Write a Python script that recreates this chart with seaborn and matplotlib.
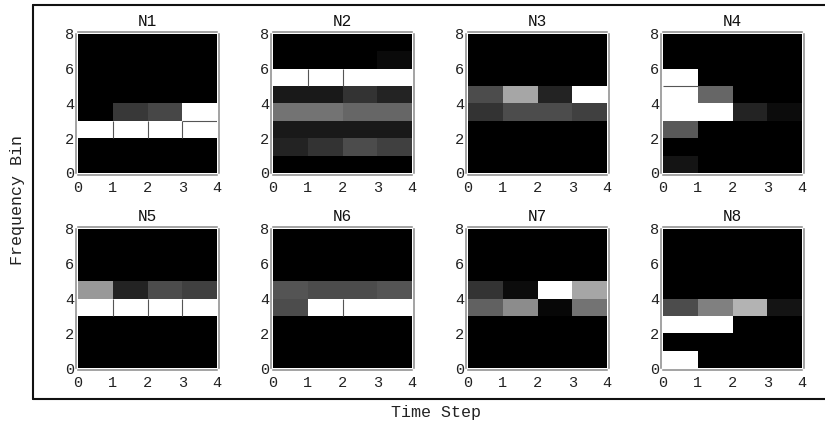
import numpy as np
import pandas as pd
import seaborn as sns
import matplotlib
matplotlib.use("Agg")
import matplotlib.pyplot as plt
from matplotlib.lines import Line2D

sns.set_theme(style="white")
plt.rcParams['font.family'] = ['Liberation Mono', 'DejaVu Sans']

titles = ["N1", "N2", "N3", "N4", "N5", "N6", "N7", "N8"]
# rows listed from frequency bin 0 upward, columns are time steps 0-3
N1 = [[0,0,0,0],[0,0,0,0],[1,1,1,1],[0,.22,.28,1],[0,0,0,0],[0,0,0,0],[0,0,0,0],[0,0,0,0]]
N2 = [[0,0,0,0],[.14,.2,.3,.25],[.1,.1,.1,.1],[.45,.45,.4,.4],[.1,.1,.2,.14],[1,1,1,1],[0,0,0,.04],[0,0,0,0]]
N3 = [[0,0,0,0],[0,0,0,0],[0,0,0,0],[.2,.3,.3,.25],[.3,.65,.14,1],[0,0,0,0],[0,0,0,0],[0,0,0,0]]
N4 = [[.08,0,0,0],[0,0,0,0],[.35,0,0,0],[1,1,.14,.05],[1,.4,0,0],[1,0,0,0],[0,0,0,0],[0,0,0,0]]
N5 = [[0,0,0,0],[0,0,0,0],[0,0,0,0],[1,1,1,1],[.6,.14,.3,.25],[0,0,0,0],[0,0,0,0],[0,0,0,0]]
N6 = [[0,0,0,0],[0,0,0,0],[0,0,0,0],[.3,1,1,1],[.33,.3,.3,.33],[0,0,0,0],[0,0,0,0],[0,0,0,0]]
N7 = [[0,0,0,0],[0,0,0,0],[0,0,0,0],[.38,.55,.03,.45],[.2,.05,1,.65],[0,0,0,0],[0,0,0,0],[0,0,0,0]]
N8 = [[1,0,0,0],[0,0,0,0],[1,1,0,0],[.3,.5,.7,.08],[0,0,0,0],[0,0,0,0],[0,0,0,0],[0,0,0,0]]
panels = [N1, N2, N3, N4, N5, N6, N7, N8]

# thin dark cell seams visible inside white runs: (time edge, frequency bin)
v_seams = {"N1": [(1, 2), (2, 2), (3, 2)], "N2": [(1, 5), (2, 5)],
           "N5": [(1, 3), (2, 3), (3, 3)], "N6": [(2, 3)]}
# (frequency edge, time step)
h_seams = {"N1": [(3, 3)], "N4": [(5, 0)]}

W, H = 825, 424
fig = plt.figure(figsize=(W / 100, H / 100), dpi=100, facecolor="white")

lefts = [78, 273, 468, 663]
tops = [34, 229]
aw, ah = 139, 139

for i, (name, vals) in enumerate(zip(titles, panels)):
    l = lefts[i % 4]
    t = tops[i // 4]
    ax = fig.add_axes([l / W, 1 - (t + ah) / H, aw / W, ah / H])
    sns.heatmap(pd.DataFrame(vals), ax=ax, cmap="gray", vmin=0, vmax=1, cbar=False,
                square=False, xticklabels=False, yticklabels=False)
    ax.invert_yaxis()
    for te, fb in v_seams.get(name, []):
        ax.plot([te, te], [fb, fb + 1], color="#555555", lw=0.8, solid_capstyle="butt")
    for fe, ts in h_seams.get(name, []):
        ax.plot([ts, ts + 1], [fe, fe], color="#555555", lw=0.8, solid_capstyle="butt")
    ax.set_xticks([0, 1, 2, 3, 4], labels=["0", "1", "2", "3", "4"])
    ax.set_yticks([0, 2, 4, 6, 8], labels=["0", "2", "4", "6", "8"])
    ax.tick_params(axis="both", length=0, labelsize=11, labelcolor="#222222",
                   labelrotation=0)
    ax.tick_params(axis="x", pad=4.5)
    ax.tick_params(axis="y", pad=1.5)
    for s in ax.spines.values():
        s.set_visible(True)
        s.set_color("#8a8a8a")
        s.set_linewidth(1.1)
        s.set_position(("outward", 1.2))
    ax.set_title(name, fontsize=11.5, pad=5.5, color="#111111")

x0, x1 = 33 / W, 1.0
y0, y1 = 1 - 399 / H, 1 - 5 / H
fig.add_artist(Line2D([x0, x0], [y0, y1], color="#111111", lw=1.5))
fig.add_artist(Line2D([x0, x1], [y1, y1], color="#111111", lw=1.5))
fig.add_artist(Line2D([x0, x1], [y0, y0], color="#111111", lw=1.5))

fig.text(18 / W, 1 - 200 / H, "Frequency Bin", rotation=90, ha="center", va="center",
         fontsize=12, color="#222222")
fig.text(436 / W, 1 - 413 / H, "Time Step", ha="center", va="center",
         fontsize=12, color="#222222")

fig.savefig("out.png", dpi=100)
